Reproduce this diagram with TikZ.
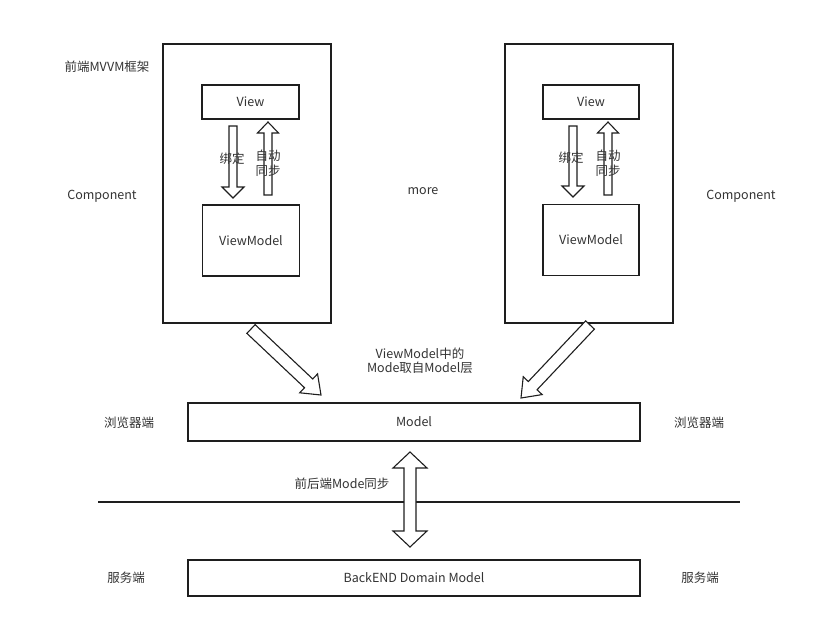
\documentclass[tikz,border=0pt]{standalone}
\usepackage{fontspec}
\setmainfont{Noto Sans CJK SC}
\usetikzlibrary{calc}
\definecolor{txt}{HTML}{333333}
\definecolor{ln}{HTML}{1E1E1E}
\newcommand\blkarrow[5]{% from, to, shaft half width, head half width, head length
  \coordinate (bc) at ($(#2)!#5!(#1)$);
  \draw[arrowline] ($(#1)!#3!90:(#2)$) -- ($(bc)!#3!90:(#2)$) -- ($(bc)!#4!90:(#2)$) -- (#2)
    -- ($(bc)!#4!-90:(#2)$) -- ($(bc)!#3!-90:(#2)$) -- ($(#1)!#3!-90:(#2)$) -- cycle;}
\newcommand\dblarrow[5]{%
  \coordinate (ca) at ($(#1)!#5!(#2)$);
  \coordinate (cb) at ($(#2)!#5!(#1)$);
  \draw[arrowline] (#1) -- ($(ca)!#4!90:(#2)$) -- ($(ca)!#3!90:(#2)$) -- ($(cb)!#3!-90:(#1)$)
    -- ($(cb)!#4!-90:(#1)$) -- (#2) -- ($(cb)!#4!90:(#1)$) -- ($(cb)!#3!90:(#1)$)
    -- ($(ca)!#3!-90:(#2)$) -- ($(ca)!#4!-90:(#2)$) -- cycle;}
\begin{document}
\begin{tikzpicture}[x=1pt,y=-1pt,
  box/.style={draw=ln,line width=1.3pt,fill=white,inner sep=0pt,text=txt,
    font=\fontsize{12.5}{15}\selectfont},
  bigbox/.style={draw=ln,line width=1.4pt,minimum width=168pt,minimum height=279pt,inner sep=0pt},
  lbl/.style={text=txt,font=\fontsize{12.5}{15}\selectfont,inner sep=0pt,align=center},
  arrowline/.style={draw=ln,line width=1.1pt,fill=white,line join=miter}]
\useasboundingbox (0,0) rectangle (829,627);

% big component frames
\node[bigbox] (compL) at (247,183.5) {};
\node[bigbox] (compR) at (589,183.5) {};

% inner boxes
\node[box,minimum width=97pt,minimum height=34pt] (viewL) at (250.5,102) {View};
\node[box,minimum width=97pt,minimum height=71pt] (vmL) at (251,240.5) {ViewModel};
\node[box,minimum width=96pt,minimum height=34pt] (viewR) at (591,102) {View};
\node[box,minimum width=96pt,minimum height=71pt] (vmR) at (591,240) {ViewModel};

\node[box,minimum width=452pt,minimum height=38pt] (model) at (414,422) {Model};
\node[box,minimum width=452pt,minimum height=36pt] (backend) at (414,578) {BackEND Domain Model};

% binding arrows (left)
\coordinate (dLa) at (233,126); \coordinate (dLb) at (233,198);
\coordinate (uLa) at (268,195); \coordinate (uLb) at (268,122);
\blkarrow{dLa}{dLb}{4pt}{11pt}{11pt}
\blkarrow{uLa}{uLb}{4pt}{10.5pt}{11pt}
% binding arrows (right)
\coordinate (dRa) at (573,126); \coordinate (dRb) at (573,197);
\coordinate (uRa) at (608,195); \coordinate (uRb) at (608,122);
\blkarrow{dRa}{dRb}{4pt}{11pt}{11pt}
\blkarrow{uRa}{uRb}{4pt}{10.5pt}{11pt}

\node[lbl] (bindL) at (232,159) {绑定};
\node[lbl] (syncL) at (268,163.5) {自动\\同步};
\node[lbl] (bindR) at (571,158) {绑定};
\node[lbl] (syncR) at (608,163.5) {自动\\同步};

% diagonal arrows to Model
\coordinate (gLa) at (251,329); \coordinate (gLb) at (321,395);
\coordinate (gRa) at (590,325); \coordinate (gRb) at (521,398);
\blkarrow{gLa}{gLb}{6pt}{13pt}{17pt}
\blkarrow{gRa}{gRb}{6pt}{13pt}{17pt}

% separator line
\coordinate (sepL) at (98,502); \coordinate (sepR) at (740,502);
\draw[ln,line width=1.5pt] (sepL) -- (sepR);

% sync double arrow
\coordinate (sA) at (410,452); \coordinate (sB) at (410,547);
\dblarrow{sA}{sB}{6pt}{17pt}{16pt}

% labels
\node[lbl] (title) at (107,67) {前端MVVM框架};
\node[lbl] (compLt) at (102,196) {Component};
\node[lbl] (compRt) at (741,196) {Component};
\node[lbl] (more) at (423,191) {more};
\node[lbl,font=\fontsize{12.5}{14}\selectfont] (vmnote) at (420,361) {ViewModel中的\\Mode取自Model层};
\node[lbl] (browL) at (129,423) {浏览器端};
\node[lbl] (browR) at (699,423) {浏览器端};
\node[lbl] (syncnote) at (342,484) {前后端Mode同步};
\node[lbl] (servL) at (126,578) {服务端};
\node[lbl] (servR) at (700,578) {服务端};
\end{tikzpicture}
\end{document}
